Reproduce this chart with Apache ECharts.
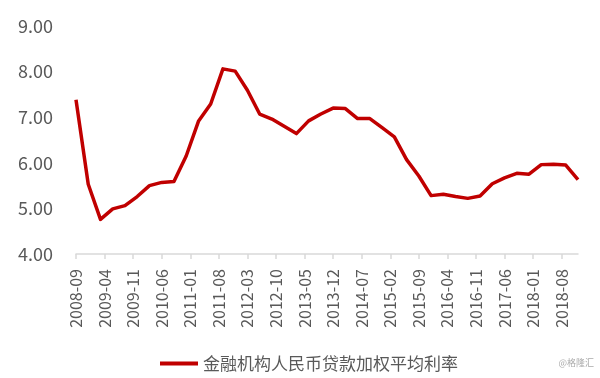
<!DOCTYPE html>
<html>
<head>
<meta charset="utf-8">
<script src="https://cdn.jsdelivr.net/npm/echarts@6/dist/echarts.min.js"></script>
<style>
html,body{margin:0;padding:0;background:#fff;}
#chart{width:600px;height:378px;}
</style>
</head>
<body>
<div id="chart"></div>
<script>
// 季度数据（2008-09 ~ 2018-12）
var quarterDates = ['2008-09','2008-12','2009-03','2009-06','2009-09','2009-12','2010-03','2010-06','2010-09','2010-12',
  '2011-03','2011-06','2011-09','2011-12','2012-03','2012-06','2012-09','2012-12','2013-03','2013-06',
  '2013-09','2013-12','2014-03','2014-06','2014-09','2014-12','2015-03','2015-06','2015-09','2015-12',
  '2016-03','2016-06','2016-09','2016-12','2017-03','2017-06','2017-09','2017-12','2018-03','2018-06',
  '2018-09','2018-12']
var rateValues = [7.38, 5.53, 4.76, 4.99, 5.06, 5.26, 5.50, 5.57, 5.59, 6.15,
  6.91, 7.29, 8.06, 8.01, 7.59, 7.07, 6.96, 6.80, 6.64, 6.92,
  7.07, 7.20, 7.19, 6.97, 6.97, 6.77, 6.57, 6.07, 5.71, 5.28,
  5.31, 5.26, 5.22, 5.27, 5.54, 5.67, 5.77, 5.75, 5.96, 5.97,
  5.95, 5.63]
var seriesName = '金融机构人民币贷款加权平均利率'
var yTicks = [4, 5, 6, 7, 8, 9]

// 按月生成横轴（Excel日期轴，每7个月一个标签）
var months = []
for (var y = 2008, m = 9; y < 2018 || (y == 2018 && m <= 12); ) {
  months.push(y + '-' + (m < 10 ? '0' + m : m))
  m++
  if (m > 12) { m = 1; y++ }
}
var lineData = months.map(function (d) {
  var i = quarterDates.indexOf(d)
  return i >= 0 ? rateValues[i] : null
})

var chart = echarts.init(document.getElementById('chart'))
var font = '"Noto Sans CJK SC", "Noto Sans", sans-serif'
chart.setOption({
  animation: false,
  textStyle: { fontFamily: font },
  grid: { left: 76, right: 22, top: 26, bottom: 124, containLabel: false },
  legend: {
    data: [seriesName],
    left: 155,
    top: 350,
    icon: 'rect',
    itemWidth: 38,
    itemHeight: 4,
    itemGap: 4,
    textStyle: { color: '#595959', fontSize: 17, fontFamily: font }
  },
  xAxis: {
    type: 'category',
    data: months,
    boundaryGap: false,
    axisLine: { lineStyle: { color: '#d9d9d9', width: 1.5 } },
    axisTick: { interval: 6, length: 5, lineStyle: { color: '#d9d9d9', width: 1.5 } },
    axisLabel: {
      interval: 6,
      rotate: 90,
      margin: 15,
      color: '#595959',
      fontSize: 16,
      fontFamily: font
    },
    splitLine: { show: false }
  },
  yAxis: {
    type: 'value',
    min: yTicks[0],
    max: yTicks[yTicks.length - 1],
    interval: 1,
    axisLine: { show: false },
    axisTick: { show: false },
    splitLine: { show: false },
    axisLabel: {
      margin: 23,
      color: '#595959',
      fontSize: 18,
      fontFamily: font,
      formatter: function (v) { return v.toFixed(2) }
    }
  },
  series: [{
    name: seriesName,
    type: 'line',
    data: lineData,
    connectNulls: true,
    showSymbol: false,
    symbol: 'none',
    lineStyle: { color: '#C00000', width: 3.5, join: 'round' },
    itemStyle: { color: '#C00000' }
  }],
  graphic: [{
    type: 'text',
    right: 6,
    top: 358,
    style: { text: '@格隆汇', fill: '#aaaaaa', fontSize: 9, fontFamily: font }
  }]
})
</script>
</body>
</html>
